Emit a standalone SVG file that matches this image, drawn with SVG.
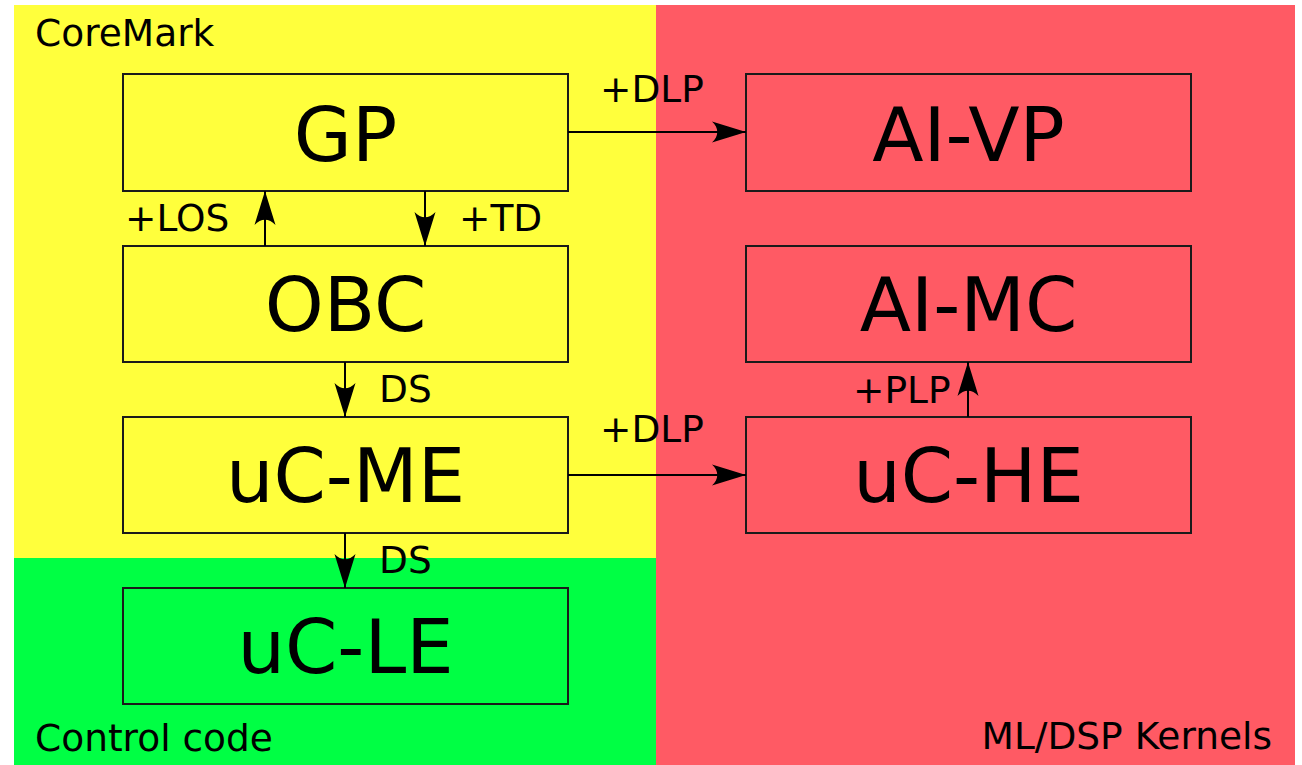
<svg xmlns="http://www.w3.org/2000/svg" width="1302" height="765" viewBox="0 0 1302 765">
  <style>
    text { font-family: "DejaVu Sans", "Liberation Sans", sans-serif; fill: #000; }
    .node { stroke: #1a1a1a; stroke-width: 2; }
    .y { fill: #ffff3c; }
    .r { fill: #ff5a64; }
    .g { fill: #00ff44; }
    .big { font-size: 75px; text-anchor: middle; }
    .lbl { font-size: 37.5px; }
    .conn { stroke: #000; stroke-width: 2; fill: none; marker-end: url(#arr); }
  </style>
  <defs>
    <marker id="arr" markerUnits="userSpaceOnUse" markerWidth="40" markerHeight="24" viewBox="-36 -12 40 24" refX="0" refY="0" orient="auto" overflow="visible">
      <path d="M0,0 L-34,-10.5 C-27,-4 -27,4 -34,10.5 Z" fill="#000"/>
    </marker>
  </defs>

  <rect x="0" y="0" width="1302" height="765" fill="#fff"/>
  <g id="regions">
    <rect class="y" x="14" y="5" width="642" height="553"/>
    <rect class="g" x="14" y="558" width="642" height="207"/>
    <rect class="r" x="656" y="5" width="639" height="760"/>
    <text class="lbl" x="35" y="46">CoreMark</text>
    <text class="lbl" x="35" y="751">Control code</text>
    <text class="lbl" x="1272" y="749" text-anchor="end">ML/DSP Kernels</text>
  </g>

  <g id="node-GP">
    <rect class="node y" x="123" y="74" width="445" height="117"/>
    <text class="big" x="345.5" y="161">GP</text>
  </g>
  <g id="node-AI-VP">
    <rect class="node r" x="746" y="74" width="445" height="117"/>
    <text class="big" x="968.5" y="161">AI-VP</text>
  </g>
  <g id="node-OBC">
    <rect class="node y" x="123" y="246" width="445" height="116"/>
    <text class="big" x="345.5" y="331">OBC</text>
  </g>
  <g id="node-AI-MC">
    <rect class="node r" x="746" y="246" width="445" height="116"/>
    <text class="big" x="968.5" y="331">AI-MC</text>
  </g>
  <g id="node-uC-ME">
    <rect class="node y" x="123" y="417" width="445" height="116"/>
    <text class="big" x="345.5" y="502">uC-ME</text>
  </g>
  <g id="node-uC-HE">
    <rect class="node r" x="746" y="417" width="445" height="116"/>
    <text class="big" x="968.5" y="502">uC-HE</text>
  </g>
  <g id="node-uC-LE">
    <rect class="node g" x="123" y="588" width="445" height="116"/>
    <text class="big" x="345.5" y="673">uC-LE</text>
  </g>

  <g id="connectors">
    <line class="conn" x1="568" y1="132" x2="746" y2="132"/>
    <line class="conn" x1="265" y1="246" x2="265" y2="191"/>
    <line class="conn" x1="425" y1="191" x2="425" y2="246"/>
    <line class="conn" x1="345" y1="362" x2="345" y2="417"/>
    <line class="conn" x1="568" y1="475" x2="746" y2="475"/>
    <line class="conn" x1="968" y1="417" x2="968" y2="362"/>
    <line class="conn" x1="345" y1="533" x2="345" y2="588"/>
    <text class="lbl" x="600" y="102">+DLP</text>
    <text class="lbl" x="125" y="231">+LOS</text>
    <text class="lbl" x="459" y="231">+TD</text>
    <text class="lbl" x="379" y="402">DS</text>
    <text class="lbl" x="853" y="403">+PLP</text>
    <text class="lbl" x="600" y="442">+DLP</text>
    <text class="lbl" x="379" y="573">DS</text>
  </g>
</svg>
